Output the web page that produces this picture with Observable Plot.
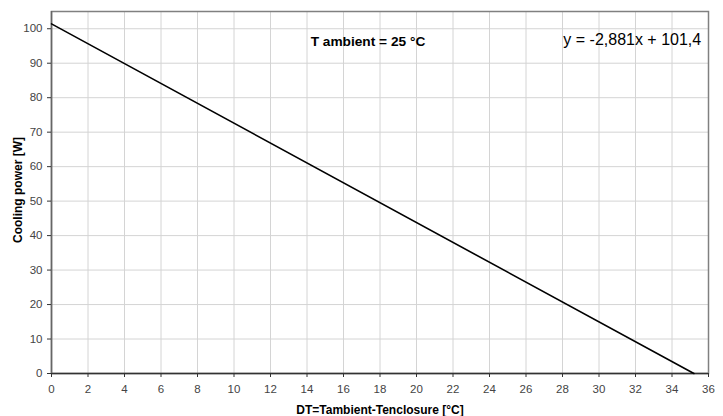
<!DOCTYPE html>
<html><head><meta charset="utf-8">
<script src="https://cdn.jsdelivr.net/npm/d3@7"></script>
<script src="https://cdn.jsdelivr.net/npm/@observablehq/plot@0.6"></script>
<style>
body{margin:0;background:#fff;}
svg{font-family:"Liberation Sans",Arial,sans-serif;}
</style></head><body>
<div id="chart"></div>
<script>
const lineX = [0, 35.2];
const lineY = [101.4, 0];
const xTicks = d3.range(0, 37, 2);
const yTicks = d3.range(0, 101, 10);
const titleText = "T ambient = 25 °C";
const eqText = "y = -2,881x + 101,4";
const xLabel = "DT=Tambient-Tenclosure [°C]";
const yLabel = "Cooling power [W]";

const pts = lineX.map((x, i) => ({x, y: lineY[i]}));

const chart = Plot.plot({
  width: 723, height: 416,
  marginLeft: 51, marginRight: 15, marginTop: 11, marginBottom: 43,
  style: {fontFamily: '"Liberation Sans", Arial, sans-serif', fontSize: "11px", color: "#444", background: "#fff"},
  x: {domain: [0, 36], ticks: xTicks, label: null},
  y: {domain: [0, 105], ticks: yTicks, label: null},
  marks: [
    Plot.gridX(xTicks, {stroke: "#d4d4d4", strokeOpacity: 1}),
    Plot.gridY(yTicks, {stroke: "#d4d4d4", strokeOpacity: 1}),
    Plot.frame({stroke: "#808080", strokeWidth: 1.5}),
    Plot.ruleY([0], {stroke: "#333", strokeWidth: 1.5}),
    Plot.ruleX([0], {stroke: "#666", strokeWidth: 1.5}),
    Plot.axisX(xTicks, {tickSize: 4, tickPadding: 7, stroke: "#333", fill: "#444", fontSize: 11.5, label: null}),
    Plot.axisY(yTicks, {tickSize: 4, tickPadding: 5, stroke: "#333", fill: "#444", fontSize: 11.5, label: null}),
    Plot.line(pts, {x: "x", y: "y", stroke: "#000", strokeWidth: 1.6}),
    Plot.text([titleText], {x: 14.2, y: 96.2, text: d => d, textAnchor: "start", fontWeight: "bold", fontSize: 13.7, fill: "#000"}),
    Plot.text([eqText], {x: 35.6, y: 96.8, text: d => d, textAnchor: "end", fontSize: 16, fill: "#000"}),
    Plot.text([xLabel], {x: 18, y: 0, text: d => d, dy: 40, fontWeight: "bold", fontSize: 12, fill: "#000", frameAnchor: "bottom"}),
  ]
});
// y label
const svg = d3.select(chart);
svg.append("text")
  .attr("transform", `translate(18,190) rotate(-90)`)
  .attr("text-anchor", "middle")
  .attr("dominant-baseline", "central")
  .attr("font-weight", "bold")
  .attr("font-size", 12)
  .attr("fill", "#000")
  .text(yLabel);
document.getElementById("chart").appendChild(chart);
</script>
</body></html>
